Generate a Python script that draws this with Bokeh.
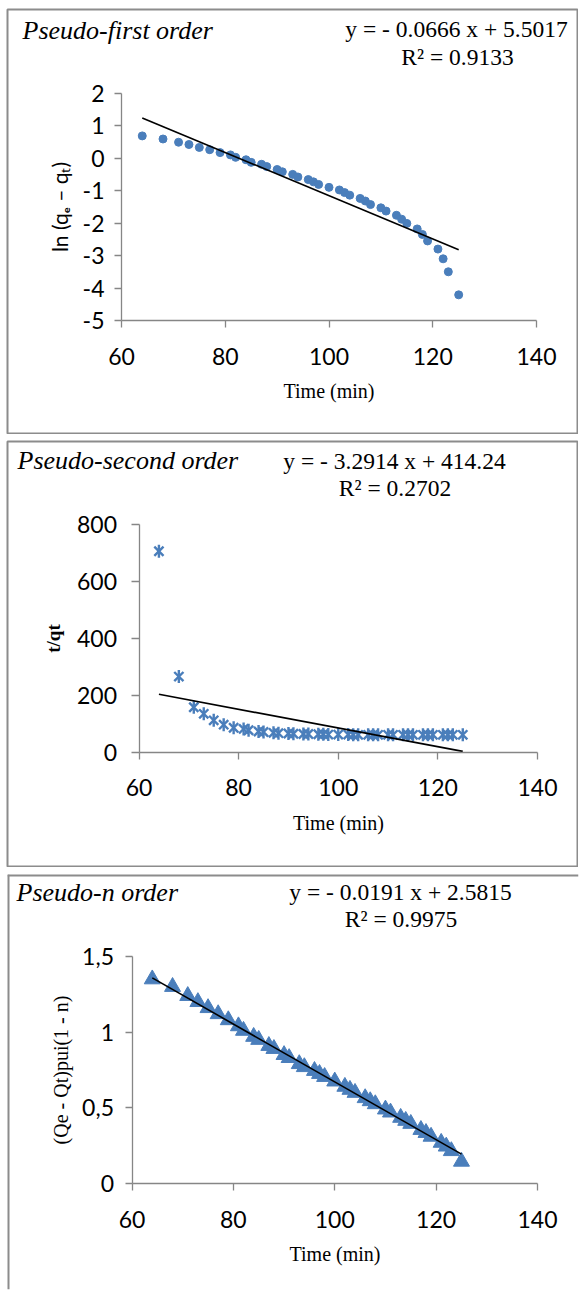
from bokeh.plotting import figure
from bokeh.models import Range1d, FixedTicker, Label, Span
from bokeh.layouts import column
from bokeh.embed import file_html
from bokeh.resources import INLINE

# ---------------- data ----------------
time_min = [64, 68, 71, 73, 75, 77, 79, 81, 82, 84, 85, 87, 88, 90, 91, 93, 94, 96, 97, 98,
            100, 102, 103, 104, 106, 107, 108, 110, 111, 113, 114, 115, 117, 118, 119, 121,
            122, 123, 125]
ln_qe_qt = [0.685, 0.59, 0.49, 0.42, 0.33, 0.26, 0.17, 0.10, 0.025, -0.05, -0.13, -0.19, -0.26,
            -0.35, -0.42, -0.50, -0.58, -0.66, -0.73, -0.81, -0.90, -0.98, -1.06, -1.14, -1.24,
            -1.32, -1.43, -1.53, -1.63, -1.76, -1.88, -2.01, -2.18, -2.35, -2.55, -2.80, -3.10,
            -3.50, -4.21]
t_over_qt = [707, 266, 158, 135, 112, 97, 86, 82, 77, 73, 71, 68, 67, 66, 65, 64, 64, 63, 63, 62,
             62, 62, 61, 61, 61, 61, 61, 61, 61, 61, 61, 61, 61, 61, 61, 61, 61, 61, 61]
pseudo_n = [1.35, 1.30, 1.24, 1.20, 1.16, 1.12, 1.08, 1.04, 1.01, 0.97, 0.95, 0.91, 0.89, 0.85,
            0.83, 0.79, 0.77, 0.745, 0.725, 0.705, 0.675, 0.64, 0.62, 0.60, 0.565, 0.545, 0.525,
            0.49, 0.47, 0.435, 0.415, 0.395, 0.355, 0.335, 0.31, 0.27, 0.245, 0.215, 0.145]

fit_first = (-0.0666, 5.5017)
fit_second = (-3.2914, 414.24)
fit_n = (-0.0191, 2.5815)

titles = ["Pseudo-first order", "Pseudo-second order", "Pseudo-n order"]
equations = ["y = - 0.0666 x + 5.5017", "y = - 3.2914 x + 414.24", "y = - 0.0191 x + 2.5815"]
r2_texts = ["R\u00b2 = 0.9133", "R\u00b2 = 0.2702", "R\u00b2 = 0.9975"]
y_titles = ["ln (q\u2091 \u2013 q\u209c)", "t/qt", "(Qe - Qt)pui(1 - n)"]
x_title = "Time (min)"

x_ticks = [60, 80, 100, 120, 140]
y1_ticks = [-5, -4, -3, -2, -1, 0, 1, 2]
y1_tick_labels = ["-5", "-4", "-3", "-2", "-1", "0", "1", "2"]
y2_ticks = [0, 200, 400, 600, 800]
y3_ticks = [0, 0.5, 1, 1.5]
y3_tick_labels = ["0", "0,5", "1", "1,5"]

BLUE = "#4a7ebb"
SERIF = "Liberation Serif"
SANS = "Lato"
AXIS_GRAY = "#868686"
BOX_GRAY = "#8c8c8c"


class Geo:
    """Page-pixel layout of one panel: canvas box and where the axis ends sit."""

    def __init__(self, box, x60, x140, ymax_px, ymin_px, ymin, ymax):
        self.left, self.top, self.right, self.bottom = box
        self.x60, self.x140 = x60, x140
        self.ymax_px, self.ymin_px = ymax_px, ymin_px
        self.ymin, self.ymax = ymin, ymax
        self.px_x = (x140 - x60) / 80.0
        self.px_y = (ymin_px - ymax_px) / (ymax - ymin)
        fl, fr = self.left + 1, self.right - 1
        ft, fb = self.top + 1, self.bottom - 1
        self.xr = (60 - (x60 - fl) / self.px_x, 140 + (fr - x140) / self.px_x)
        self.yr = (ymin - (fb - ymin_px) / self.px_y, ymax + (ymax_px - ft) / self.px_y)

    def data(self, sx, sy):
        return 60 + (sx - self.x60) / self.px_x, self.ymax + (self.ymax_px - sy) / self.px_y


def make_panel(g, yticks, ylab_std, ytick_out, outline=True):
    w = g.right - g.left
    h = g.bottom - g.top
    p = figure(width=w, height=h, x_range=Range1d(*g.xr), y_range=Range1d(*g.yr),
               output_backend="svg", toolbar_location=None, title=None,
               min_border_left=1, min_border_right=1, min_border_top=1, min_border_bottom=1)
    p.background_fill_color = "white"
    p.border_fill_color = "white"
    if outline:
        p.outline_line_color = BOX_GRAY
        p.outline_line_width = 2
    else:
        p.outline_line_color = None
    p.xgrid.visible = False
    p.ygrid.visible = False
    p.xaxis.fixed_location = g.ymin
    p.yaxis.fixed_location = 60
    p.xaxis.bounds = (60, 140)
    p.yaxis.bounds = (g.ymin, g.ymax)
    p.xaxis.ticker = FixedTicker(ticks=x_ticks)
    p.yaxis.ticker = FixedTicker(ticks=yticks)
    for ax in (p.xaxis[0], p.yaxis[0]):
        ax.axis_line_color = AXIS_GRAY
        ax.axis_line_width = 1.3
        ax.major_tick_line_color = AXIS_GRAY
        ax.major_tick_line_width = 1.3
        ax.major_tick_in = 0
        ax.minor_tick_line_color = None
        ax.major_label_text_font = SANS
        ax.major_label_text_font_size = "23px"
        ax.major_label_text_color = "black"
        ax.axis_label_text_color = "black"
        ax.axis_label_text_font_style = "normal"
    p.xaxis.major_tick_out = 7
    p.yaxis.major_tick_out = ytick_out
    p.xaxis.major_label_standoff = 20
    p.yaxis.major_label_standoff = ylab_std
    p.xaxis.axis_label = x_title
    p.xaxis.axis_label_text_font = SERIF
    p.xaxis.axis_label_text_font_size = "20px"
    p.xaxis.axis_label_standoff = 12
    return p


def add_texts(p, g, idx, title_xy, eq_xy, r2_xy):
    tx, ty = g.data(*title_xy)
    p.add_layout(Label(x=tx, y=ty, text=titles[idx], text_font=SERIF, text_font_style="italic",
                       text_font_size="26px", text_color="black",
                       text_align="left", text_baseline="middle"))
    ex, ey = g.data(*eq_xy)
    p.add_layout(Label(x=ex, y=ey, text=equations[idx], text_font=SERIF, text_color="black",
                       text_font_size="23.5px", text_align="center", text_baseline="middle"))
    rx, ry = g.data(*r2_xy)
    p.add_layout(Label(x=rx, y=ry, text=r2_texts[idx], text_font=SERIF, text_color="black",
                       text_font_size="23.5px", text_align="center", text_baseline="middle"))


xs = [min(time_min), max(time_min)]

# ---------------- panel 1 ----------------
g1 = Geo((6, 8, 578, 434), 121, 536, 92.7, 320, -5, 2)
p1 = make_panel(g1, y1_ticks, 10, 7)
p1.margin = (8, 0, 0, 6)
p1.yaxis.major_label_overrides = {t: lab for t, lab in zip(y1_ticks, y1_tick_labels)}
p1.yaxis.axis_label = y_titles[0]
p1.yaxis.axis_label_text_font = SANS
p1.yaxis.axis_label_text_font_size = "21px"
p1.yaxis.axis_label_standoff = 8
p1.scatter(time_min, ln_qe_qt, marker="circle", size=8, fill_color=BLUE, line_color=BLUE)
p1.line(xs, [fit_first[0] * v + fit_first[1] for v in xs], line_color="black", line_width=1.6)
add_texts(p1, g1, 0, (22, 29.5), (456, 28.5), (457, 56))

# ---------------- panel 2 ----------------
g2 = Geo((6, 440, 578, 867), 138.5, 537, 524.3, 751.7, 0, 800)
p2 = make_panel(g2, y2_ticks, 14, 8)
p2.margin = (6, 0, 0, 6)
p2.yaxis.axis_label = y_titles[1]
p2.yaxis.axis_label_text_font = SERIF
p2.yaxis.axis_label_text_font_style = "bold"
p2.yaxis.axis_label_text_font_size = "19px"
p2.yaxis.axis_label_standoff = 10
p2.scatter(time_min, t_over_qt, marker="x", size=13, line_color=BLUE, line_width=2.4)
p2.scatter(time_min, t_over_qt, marker="dash", angle=1.5708, size=13, line_color=BLUE,
           line_width=2.4)
p2.line(xs, [fit_second[0] * v + fit_second[1] for v in xs], line_color="black", line_width=1.6)
add_texts(p2, g2, 1, (17, 459.5), (394, 460), (394.5, 487))

# ---------------- panel 3 ----------------
g3 = Geo((6, 873, 579, 1290), 131.5, 537, 956, 1183, 0, 1.5)
p3 = make_panel(g3, y3_ticks, 11, 7, outline=False)
p3.margin = (6, 0, 0, 6)
p3.add_layout(Span(location=g3.yr[1], dimension="width", line_color=BOX_GRAY, line_width=4))
p3.add_layout(Span(location=g3.xr[0], dimension="height", line_color=BOX_GRAY, line_width=4))
p3.yaxis.major_label_overrides = {t: lab for t, lab in zip(y3_ticks, y3_tick_labels)}
p3.yaxis.axis_label = y_titles[2]
p3.yaxis.axis_label_text_font = SERIF
p3.yaxis.axis_label_text_font_size = "20px"
p3.yaxis.axis_label_standoff = 8
p3.scatter(time_min, pseudo_n, marker="triangle", size=16, fill_color=BLUE, line_color=BLUE)
p3.line(xs, [fit_n[0] * v + fit_n[1] for v in xs], line_color="black", line_width=1.6)
add_texts(p3, g3, 2, (16, 891.5), (400, 891.5), (400.5, 918))

layout = column(p1, p2, p3, spacing=0)
open("out.html", "w").write(file_html(layout, INLINE))
